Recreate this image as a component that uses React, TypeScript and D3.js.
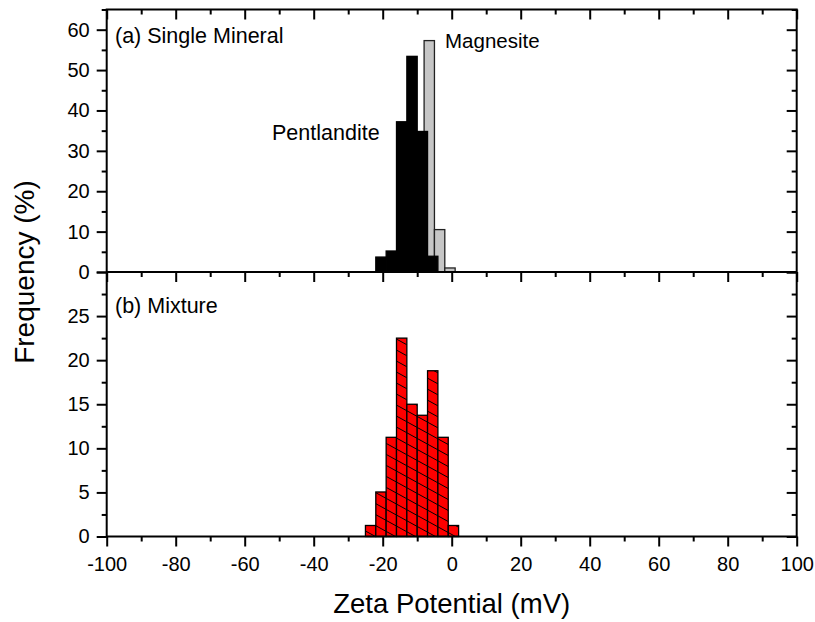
import React, { useEffect, useRef } from "react";
import * as d3 from "d3";

// bin left edges (mV) and frequencies (%), bin width 3 mV
const binWidth = 3;
const pentlanditeBins = [-22, -19, -16, -13, -10, -7];
const pentlanditeFreq = [3.7, 5.2, 37.2, 53.4, 34.8, 3.9];
const magnesiteBins = [-8, -5, -2];
const magnesiteFreq = [57.3, 10.5, 1.0];
const mixtureBins = [-25, -22, -19, -16, -13, -10, -7, -4, -1];
const mixtureFreq = [1.25, 5.05, 11.25, 22.5, 15.0, 13.75, 18.8, 11.25, 1.25];

const xTicks = [-100, -80, -60, -40, -20, 0, 20, 40, 60, 80, 100];
const xMinorTicks = [-90, -70, -50, -30, -10, 10, 30, 50, 70, 90];
const topTicks = [0, 10, 20, 30, 40, 50, 60];
const topMinorTicks = [5, 15, 25, 35, 45, 55, 65];
const bottomTicks = [0, 5, 10, 15, 20, 25, 30];
const bottomMinorTicks = [2.5, 7.5, 12.5, 17.5, 22.5, 27.5];

const FONT = "'Liberation Sans', Arial, sans-serif";

const App = () => {
  const ref = useRef<SVGSVGElement>(null);

  useEffect(() => {
    const W = 815,
      H = 622;
    const left = 106.7,
      right = 796.7,
      top = 9.5,
      mid = 272,
      bottom = 536.5;

    const svg = d3.select(ref.current);
    svg.selectAll("*").remove();
    svg.attr("width", W).attr("height", H);

    const x = d3.scaleLinear().domain([-100, 100]).range([left, right]);
    const yTop = d3.scaleLinear().domain([0, 65]).range([mid, top]);
    const yBot = d3.scaleLinear().domain([0, 30]).range([bottom, mid]);

    // hatch pattern for the mixture bars
    const defs = svg.append("defs");
    const pat = defs
      .append("pattern")
      .attr("id", "hatch")
      .attr("patternUnits", "userSpaceOnUse")
      .attr("width", 20)
      .attr("height", 11);
    pat.append("rect").attr("width", 20).attr("height", 11).attr("fill", "#ff0000");
    pat
      .append("path")
      .attr("d", "M-2,-1.1 L22,12.1 M-2,9.9 L2,12.1 M18,-1.1 L22,1.1")
      .attr("stroke", "#000")
      .attr("stroke-width", 1);

    // top panel: magnesite behind pentlandite
    svg
      .append("g")
      .selectAll("rect")
      .data(magnesiteBins)
      .enter()
      .append("rect")
      .attr("x", (d) => x(d))
      .attr("width", (d) => x(d + binWidth) - x(d))
      .attr("y", (d, i) => yTop(magnesiteFreq[i]))
      .attr("height", (d, i) => yTop(0) - yTop(magnesiteFreq[i]))
      .attr("fill", "#c6c6c6")
      .attr("stroke", "#222")
      .attr("stroke-width", 1.3);

    svg
      .append("g")
      .selectAll("rect")
      .data(pentlanditeBins)
      .enter()
      .append("rect")
      .attr("x", (d) => x(d))
      .attr("width", (d) => x(d + binWidth) - x(d))
      .attr("y", (d, i) => yTop(pentlanditeFreq[i]))
      .attr("height", (d, i) => yTop(0) - yTop(pentlanditeFreq[i]))
      .attr("fill", "#000")
      .attr("stroke", "#000")
      .attr("stroke-width", 1.3);

    // bottom panel: mixture
    svg
      .append("g")
      .selectAll("rect")
      .data(mixtureBins)
      .enter()
      .append("rect")
      .attr("x", (d) => x(d))
      .attr("width", (d) => x(d + binWidth) - x(d))
      .attr("y", (d, i) => yBot(mixtureFreq[i]))
      .attr("height", (d, i) => yBot(0) - yBot(mixtureFreq[i]))
      .attr("fill", "url(#hatch)")
      .attr("stroke", "#000")
      .attr("stroke-width", 1.3);

    // helper to style an axis group
    const styleAxis = (g) => {
      g.select(".domain").remove();
      g.selectAll("line").attr("stroke", "#000").attr("stroke-width", 2);
      g.selectAll("text")
        .attr("fill", "#000")
        .style("font-family", FONT)
        .style("font-size", "20px");
    };

    // left axes
    svg
      .append("g")
      .attr("transform", `translate(${left},0)`)
      .call(d3.axisLeft(yTop).tickValues(topTicks).tickSize(10).tickPadding(7))
      .call(styleAxis);
    svg
      .append("g")
      .attr("transform", `translate(${left},0)`)
      .call(d3.axisLeft(yTop).tickValues(topMinorTicks).tickSize(5).tickFormat(() => ""))
      .call(styleAxis);
    svg
      .append("g")
      .attr("transform", `translate(${left},0)`)
      .call(
        d3
          .axisLeft(yBot)
          .tickValues(bottomTicks)
          .tickSize(10)
          .tickPadding(7)
          .tickFormat((d) => (d === 30 ? "" : String(d)))
      )
      .call(styleAxis);
    svg
      .append("g")
      .attr("transform", `translate(${left},0)`)
      .call(d3.axisLeft(yBot).tickValues(bottomMinorTicks).tickSize(5).tickFormat(() => ""))
      .call(styleAxis);

    // right axes (ticks inward)
    svg
      .append("g")
      .attr("transform", `translate(${right},0)`)
      .call(d3.axisLeft(yTop).tickValues(topTicks).tickSize(10).tickFormat(() => ""))
      .call(styleAxis);
    svg
      .append("g")
      .attr("transform", `translate(${right},0)`)
      .call(d3.axisLeft(yTop).tickValues(topMinorTicks).tickSize(5).tickFormat(() => ""))
      .call(styleAxis);
    svg
      .append("g")
      .attr("transform", `translate(${right},0)`)
      .call(d3.axisLeft(yBot).tickValues(bottomTicks).tickSize(10).tickFormat(() => ""))
      .call(styleAxis);
    svg
      .append("g")
      .attr("transform", `translate(${right},0)`)
      .call(d3.axisLeft(yBot).tickValues(bottomMinorTicks).tickSize(5).tickFormat(() => ""))
      .call(styleAxis);

    // horizontal axes: top, divider (ticks point down), bottom
    [top, mid, bottom].forEach((yy, k) => {
      svg
        .append("g")
        .attr("transform", `translate(0,${yy})`)
        .call(
          d3
            .axisBottom(x)
            .tickValues(xTicks)
            .tickSize(10)
            .tickPadding(10)
            .tickFormat((d) => (k === 2 ? String(d) : ""))
        )
        .call(styleAxis);
      svg
        .append("g")
        .attr("transform", `translate(0,${yy})`)
        .call(d3.axisBottom(x).tickValues(xMinorTicks).tickSize(5).tickFormat(() => ""))
        .call(styleAxis);
    });

    // frames
    svg
      .append("rect")
      .attr("x", left)
      .attr("y", top)
      .attr("width", right - left)
      .attr("height", bottom - top)
      .attr("fill", "none")
      .attr("stroke", "#000")
      .attr("stroke-width", 2);
    svg
      .append("line")
      .attr("x1", left)
      .attr("x2", right)
      .attr("y1", mid)
      .attr("y2", mid)
      .attr("stroke", "#000")
      .attr("stroke-width", 2);

    // annotations
    const note = (txt, tx, ty, size = 21.5) =>
      svg
        .append("text")
        .attr("x", tx)
        .attr("y", ty)
        .attr("fill", "#000")
        .style("font-family", FONT)
        .style("font-size", `${size}px`)
        .text(txt);

    note("(a) Single Mineral", 115, 43);
    note("Magnesite", 445, 48, 20.5);
    note("Pentlandite", 272, 140);
    note("(b) Mixture", 115, 313);

    // axis titles
    svg
      .append("text")
      .attr("x", (left + right) / 2)
      .attr("y", 613)
      .attr("text-anchor", "middle")
      .style("font-family", FONT)
      .style("font-size", "27.5px")
      .text("Zeta Potential (mV)");
    svg
      .append("text")
      .attr("transform", "rotate(-90)")
      .attr("x", -mid)
      .attr("y", 34)
      .attr("text-anchor", "middle")
      .style("font-family", FONT)
      .style("font-size", "28px")
      .text("Frequency (%)");
  }, []);

  return (
    <svg
      ref={ref}
      style={{ position: "absolute", left: 0, top: 0, background: "#fff" }}
    ></svg>
  );
};

export default App;
